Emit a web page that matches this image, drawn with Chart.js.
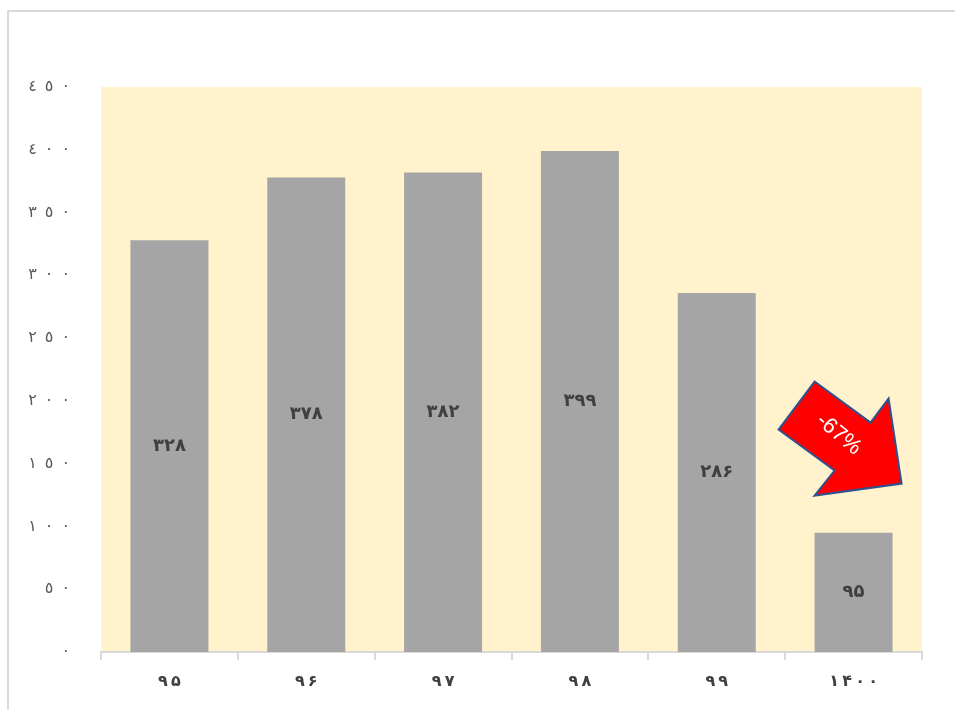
<!DOCTYPE html>
<html>
<head>
<meta charset="utf-8">
<script src="https://cdn.jsdelivr.net/npm/chart.js@4"></script>
<style>
  body { margin: 0; background: #fff; }
  #wrap { position: relative; width: 955px; height: 710px; }
  #frame { position: absolute; left: 7px; top: 10px; right: -10px; bottom: -10px; border: 2px solid #d9d9d9; }
  canvas { position: absolute; left: 0; top: 0; }
</style>
</head>
<body>
<div id="wrap">
  <div id="frame"></div>
  <canvas id="myChart" width="955" height="710"></canvas>
</div>
<script>
'use strict'

// years (Persian digits)
const years = ['۹۵', '۹۶', '۹۷', '۹۸', '۹۹', '۱۴۰۰'];
const values = [328, 378, 382, 399, 286, 95];
const changeLabel = '-67%';

const yMin = 0;
const yMax = 450;
const yStep = 50;

const persianDigits = '۰۱۲۳۴۵۶۷۸۹';
const arabicDigits = '٠١٢٣٤٥٦٧٨٩';

function toDigits(n, set) {
  return String(n).split('').map(function (d) { return set[+d]; }).join('');
}

// spread the digits a bit, keeping left-to-right order
function spaced(s, gap) {
  return s.split('').map(function (c) { return '\u200E' + c; }).join(gap) + '\u200E';
}

// value labels inside bars + the red arrow
const barLabels = {
  id: 'barLabels',
  afterDatasetsDraw(chart) {
    let ctx = chart.ctx;
    let meta = chart.getDatasetMeta(0);
    ctx.save();
    ctx.font = 'bold 18px "DejaVu Sans"';
    ctx.fillStyle = '#404040';
    ctx.textAlign = 'center';
    ctx.textBaseline = 'middle';
    meta.data.forEach(function (bar, i) {
      let mid = (bar.y + bar.base) / 2;
      ctx.fillText(toDigits(values[i], persianDigits), bar.x, mid);
    });
    ctx.restore();

    // arrow, placed next to the last bar
    let xs = chart.scales.x;
    let ys = chart.scales.y;
    let cx = xs.getPixelForValue(years.length - 1) - 13;
    let cy = ys.getPixelForValue(170);
    let pts = [[-26, -57], [30, -16], [48, -40], [61, 45], [-26, 57], [-6, 32], [-62, -9]];
    ctx.save();
    ctx.translate(cx, cy);
    ctx.beginPath();
    pts.forEach(function (p, i) {
      if (i === 0) ctx.moveTo(p[0], p[1]); else ctx.lineTo(p[0], p[1]);
    });
    ctx.closePath();
    ctx.fillStyle = '#ff0000';
    ctx.fill();
    ctx.strokeStyle = '#2f528f';
    ctx.lineWidth = 2;
    ctx.stroke();
    ctx.rotate(40 * Math.PI / 180);
    ctx.font = '22px "Liberation Sans"';
    ctx.fillStyle = '#ffffff';
    ctx.textAlign = 'center';
    ctx.textBaseline = 'middle';
    ctx.direction = 'ltr';
    ctx.fillText(changeLabel, -4, -2);
    ctx.restore();
  }
};

// light yellow plot area
const plotBg = {
  id: 'plotBg',
  beforeDraw(chart) {
    let a = chart.chartArea;
    chart.ctx.save();
    chart.ctx.fillStyle = '#fff2cc';
    chart.ctx.fillRect(a.left, a.top, a.right - a.left, a.bottom - a.top);
    chart.ctx.restore();
  }
};

let ctx = document.getElementById('myChart').getContext('2d');

// eslint-disable-next-line no-unused-vars
let chart = new Chart(ctx, {
  type: 'bar',
  data: {
    labels: years,
    datasets: [{
      data: values,
      backgroundColor: '#a5a5a5',
      borderWidth: 0,
      categoryPercentage: 1,
      barPercentage: 0.57
    }]
  },
  plugins: [plotBg, barLabels],
  options: {
    responsive: false,
    animation: false,
    layout: { padding: { top: 87, right: 33, left: 0, bottom: 0 } },
    plugins: {
      legend: { display: false },
      tooltip: { enabled: false }
    },
    scales: {
      x: {
        afterFit(scale) { scale.height = 58; },
        border: { display: true, color: '#d9d9d9', width: 2 },
        grid: { offset: true, drawOnChartArea: false, drawTicks: true, tickLength: 8, color: '#d9d9d9', lineWidth: 2 },
        ticks: {
          color: '#404040',
          font: { family: 'DejaVu Sans', size: 16, weight: 'bold' },
          padding: 12,
          callback: function (v, i) { return spaced(years[i], '\u2009'); }
        }
      },
      y: {
        min: yMin,
        max: yMax,
        afterFit(scale) { scale.width = 101; },
        border: { display: false },
        grid: { display: false, drawTicks: false },
        ticks: {
          stepSize: yStep,
          color: '#595959',
          padding: 31,
          font: { family: 'DejaVu Sans', size: 16 },
          callback: function (v) { return spaced(toDigits(v, arabicDigits), '\u2002'); }
        }
      }
    }
  }
});
</script>
</body>
</html>
